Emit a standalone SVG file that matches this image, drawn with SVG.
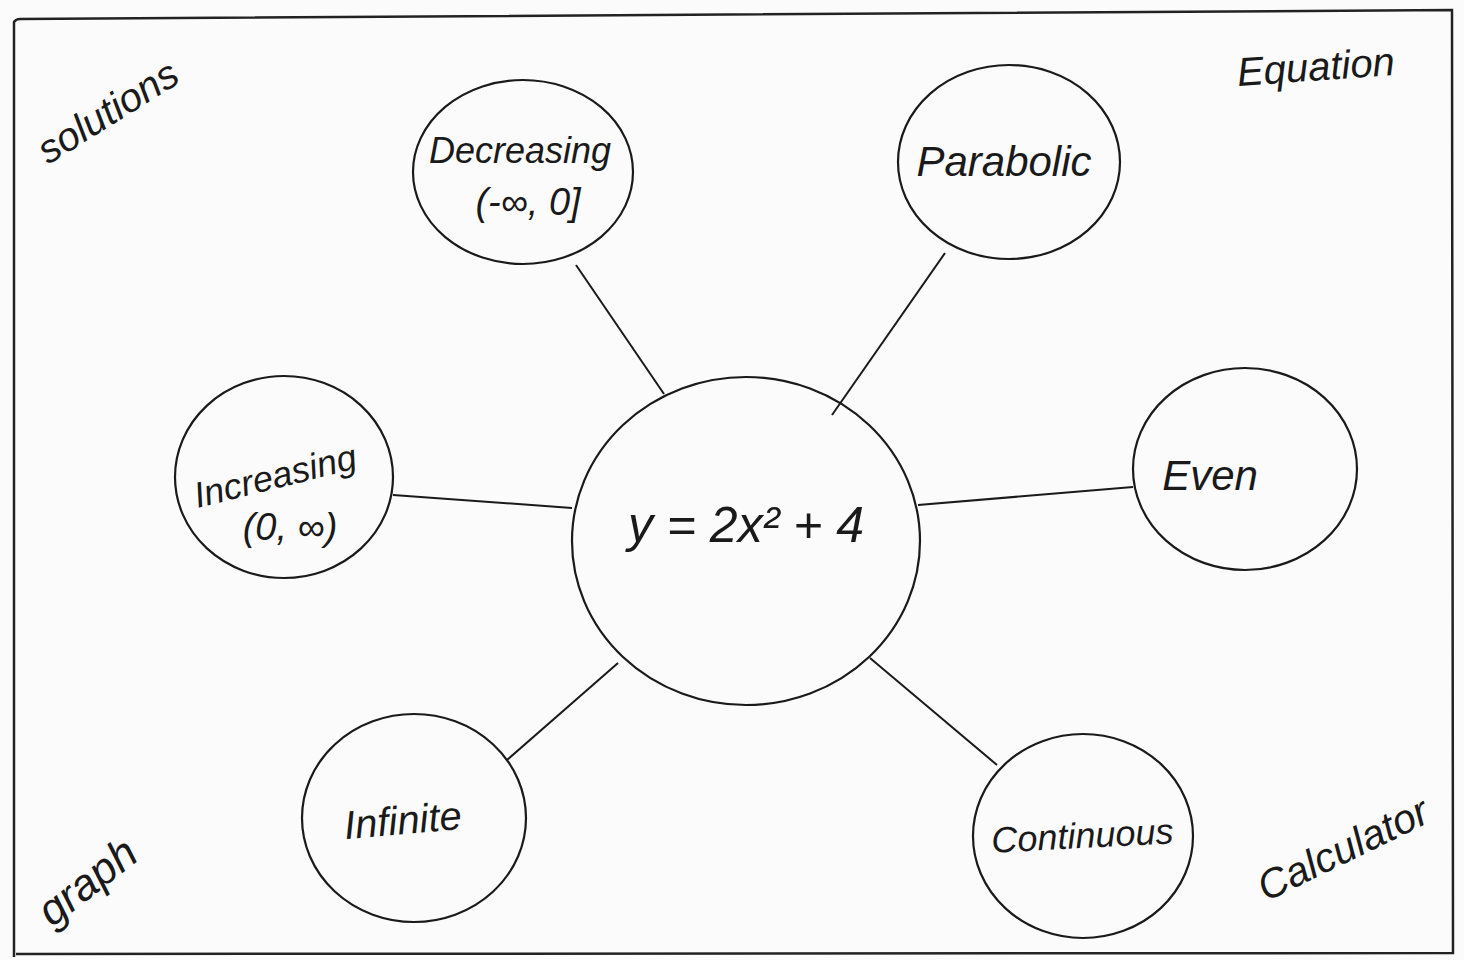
<svg xmlns="http://www.w3.org/2000/svg" width="1464" height="960" viewBox="0 0 1464 960">
<style>
.n{fill:none;stroke:#1a1a1a;stroke-width:2.2}
.c line{stroke:#1a1a1a;stroke-width:2}
text{font-family:"Liberation Sans",Arial,sans-serif;fill:#1a1a1a;font-style:italic}
.t{font-size:40px;text-anchor:middle}
.k{font-size:40px}
</style>
<rect width="1464" height="960" fill="#fbfbfb"/>
<path d="M14,957 L14,22 Q16,19 20,19 L1452,10 L1453,953 L16,954" fill="none" stroke="#222" stroke-width="2.5"/>
<text class="k" transform="translate(48,165) rotate(-32)">solutions</text>
<text class="k" transform="translate(1238,86) rotate(-4)">Equation</text>
<text class="k" transform="translate(52,928) rotate(-38)" style="font-size:44px">graph</text>
<text class="k" transform="translate(1266,902) rotate(-26)" style="font-size:41px">Calculator</text>
<g class="c" id="connectors">
<line x1="576" y1="265" x2="664" y2="394"/>
<line x1="945" y1="253" x2="832" y2="415"/>
<line x1="393" y1="495" x2="572" y2="508"/>
<line x1="918" y1="505" x2="1133" y2="487"/>
<line x1="507" y1="760" x2="618" y2="663"/>
<line x1="870" y1="658" x2="997" y2="765"/>
</g>
<g id="center">
<ellipse class="n" cx="746" cy="541" rx="174" ry="164"/>
<text class="t" x="746" y="542" style="font-size:50px">y = 2x² + 4</text>
</g>
<g id="decreasing">
<ellipse class="n" cx="523" cy="172" rx="110" ry="92"/>
<text class="t" x="520" y="163" style="font-size:36px">Decreasing</text>
<text class="t" x="528" y="215" style="font-size:38px">(-∞, 0]</text>
</g>
<g id="parabolic">
<ellipse class="n" cx="1009" cy="162" rx="111" ry="97"/>
<text class="t" x="1004" y="176" style="font-size:42px">Parabolic</text>
</g>
<g id="increasing">
<ellipse class="n" cx="284" cy="477" rx="109" ry="101"/>
<text class="t" transform="translate(278,488) rotate(-14)" style="font-size:36px">Increasing</text>
<text class="t" x="290" y="540" style="font-size:38px">(0, ∞)</text>
</g>
<g id="even">
<ellipse class="n" cx="1245" cy="469" rx="112" ry="101"/>
<text class="t" x="1210" y="490" style="font-size:42px">Even</text>
</g>
<g id="infinite">
<ellipse class="n" cx="414" cy="818" rx="112" ry="104"/>
<text class="t" transform="translate(404,834) rotate(-5)" style="font-size:40px">Infinite</text>
</g>
<g id="continuous">
<ellipse class="n" cx="1083" cy="836" rx="110" ry="102"/>
<text class="t" transform="translate(1083,848) rotate(-3)" style="font-size:36px">Continuous</text>
</g>
</svg>
